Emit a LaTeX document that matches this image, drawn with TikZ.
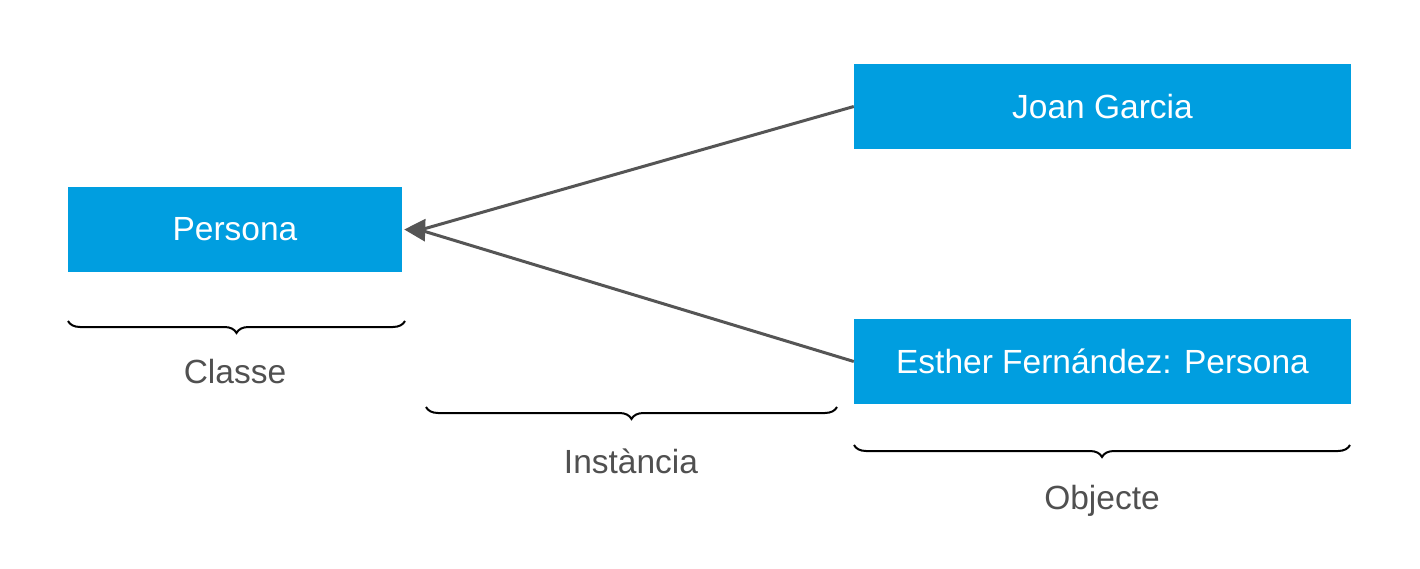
\documentclass[tikz,border=0pt]{standalone}
\usepackage{fontspec}
\setmainfont{Liberation Sans}
\usetikzlibrary{arrows.meta,decorations.pathreplacing}
\definecolor{boxblue}{HTML}{009EE0}
\definecolor{linegray}{HTML}{555555}
\definecolor{txtgray}{HTML}{505050}
\begin{document}
\begin{tikzpicture}[x=1pt,y=1pt,
  bluebox/.style={fill=boxblue,draw=none,text=white,inner sep=0pt,minimum height=85pt,font=\fontsize{33.5}{40}\selectfont},
  conn/.style={draw=linegray,line width=3pt},
  head/.style={draw=linegray,line width=3pt,-{Triangle[length=21pt,width=22pt]}},
  bracedeco/.style={draw=black,line width=2pt,decorate,decoration={brace,mirror,amplitude=12pt}},
  lbl/.style={text=txtgray,font=\fontsize{33.5}{40}\selectfont,inner sep=0pt}]
\useasboundingbox (0,0) rectangle (1420,-569);
\node[bluebox,minimum width=334pt] (persona) at (235,-229.5) {Persona};
\node[bluebox,minimum width=497pt] (joan) at (1102.5,-106.5) {Joan Garcia};
\node[bluebox,minimum width=497pt] (esther) at (1102.5,-361.5) {Esther Fernández: Persona};
\coordinate (meet) at (420,-230);
\draw[conn] (joan.west) -- (meet);
\draw[conn] (esther.west) -- (meet);
\draw[head] (meet) -- ([xshift=2pt]persona.east);
\coordinate (c1) at (68,-321);
\coordinate (c2) at (405,-321);
\coordinate (i1) at (426,-407);
\coordinate (i2) at (837,-407);
\coordinate (o1) at (854,-445);
\coordinate (o2) at (1350,-445);
\draw[bracedeco] (c1) -- (c2);
\draw[bracedeco] (i1) -- (i2);
\draw[bracedeco] (o1) -- (o2);
\node[lbl] (classe) at (235,-372) {Classe};
\node[lbl] (instancia) at (631,-461) {Instància};
\node[lbl] (objecte) at (1102,-501) {Objecte};
\end{tikzpicture}
\end{document}
